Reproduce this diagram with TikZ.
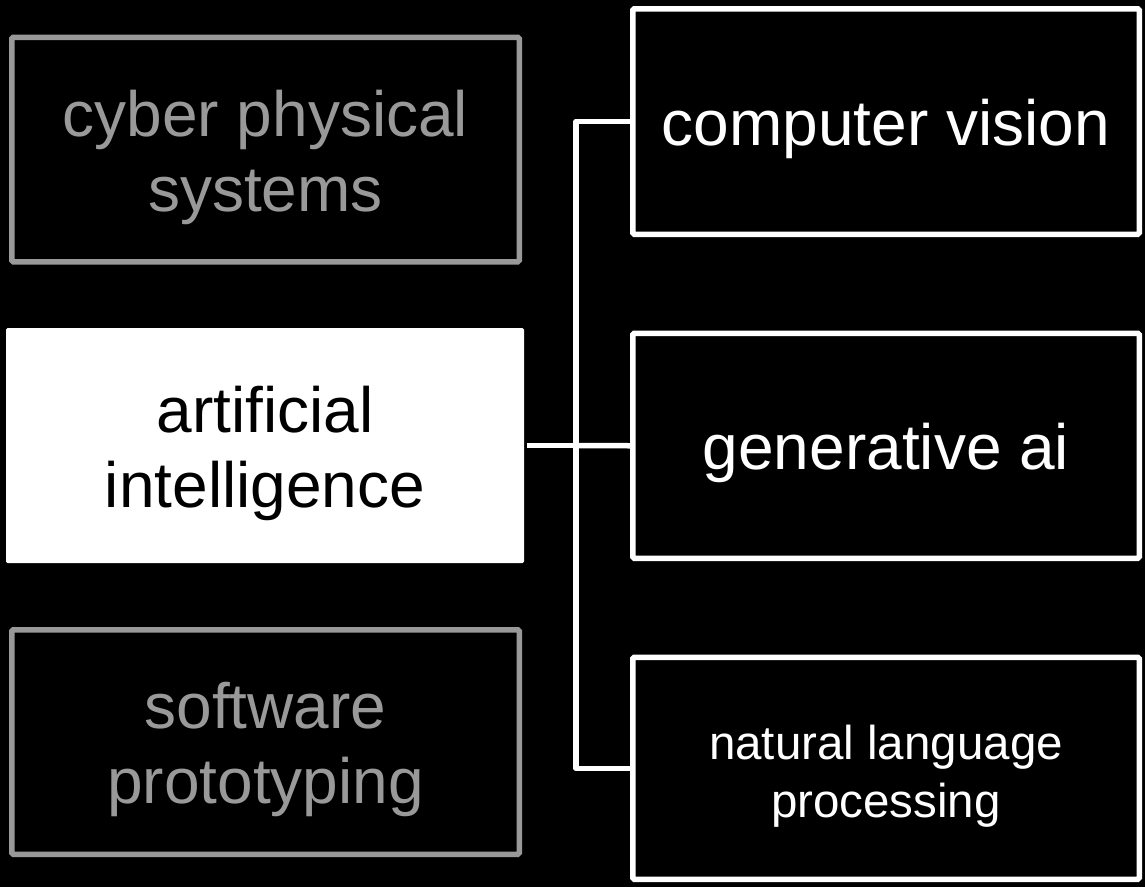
\documentclass[tikz,border=0pt]{standalone}
\usepackage{fontspec}
\setmainfont{Liberation Sans}
\definecolor{boxgray}{HTML}{999999}
\tikzset{
  base/.style={rectangle, inner sep=0pt, line width=5.5pt, rounded corners=1.5pt},
  grayboxx/.style={base, draw=boxgray, fill=black},
  whitebox/.style={base, draw=white, fill=black},
  activebox/.style={base, draw=none, fill=white},
  lbl/.style={align=center, inner sep=0pt, yshift=-7.5pt, font=\fontsize{64}{75}\selectfont},
  smalllbl/.style={lbl, font=\fontsize{47.5}{58}\selectfont},
  link/.style={draw=white, line width=5.5pt, line join=round}
}
\begin{document}
\begin{tikzpicture}[x=1pt,y=-1pt]
\fill[black] (0,0) rectangle (1145,887);
\useasboundingbox (0,0) rectangle (1145,887);
\node[grayboxx, minimum width=507.5pt, minimum height=224.5pt] (cpsbox) at (265.5,149.5) {};
\node[lbl, text=boxgray] (cps) at (cpsbox.center) {cyber physical\\systems};
\node[activebox, minimum width=518pt, minimum height=235pt] (aibox) at (265,445.5) {};
\node[lbl, text=black] (ai) at (aibox.center) {artificial\\intelligence};
\node[grayboxx, minimum width=507.5pt, minimum height=224.5pt] (spbox) at (265.5,742) {};
\node[lbl, text=boxgray] (sp) at (spbox.center) {software\\prototyping};
\node[whitebox, minimum width=506.5pt, minimum height=225.5pt] (cvbox) at (886,121.5) {};
\node[lbl, text=white] (cv) at (cvbox.center) {computer vision};
\node[whitebox, minimum width=506.5pt, minimum height=225pt] (gabox) at (886,445.75) {};
\node[lbl, text=white] (ga) at (gabox.center) {generative ai};
\node[whitebox, minimum width=506.5pt, minimum height=222pt] (nlpbox) at (886,768.25) {};
\node[smalllbl, text=white] (nlp) at (nlpbox.center) {natural language\\processing};
\coordinate (j) at (576,445.5);
\draw[link] (aibox.east) -- (j);
\draw[link] (j) |- (cvbox.west);
\draw[link] (j) -- (gabox.west);
\draw[link] (j) |- (nlpbox.west);
\end{tikzpicture}
\end{document}
